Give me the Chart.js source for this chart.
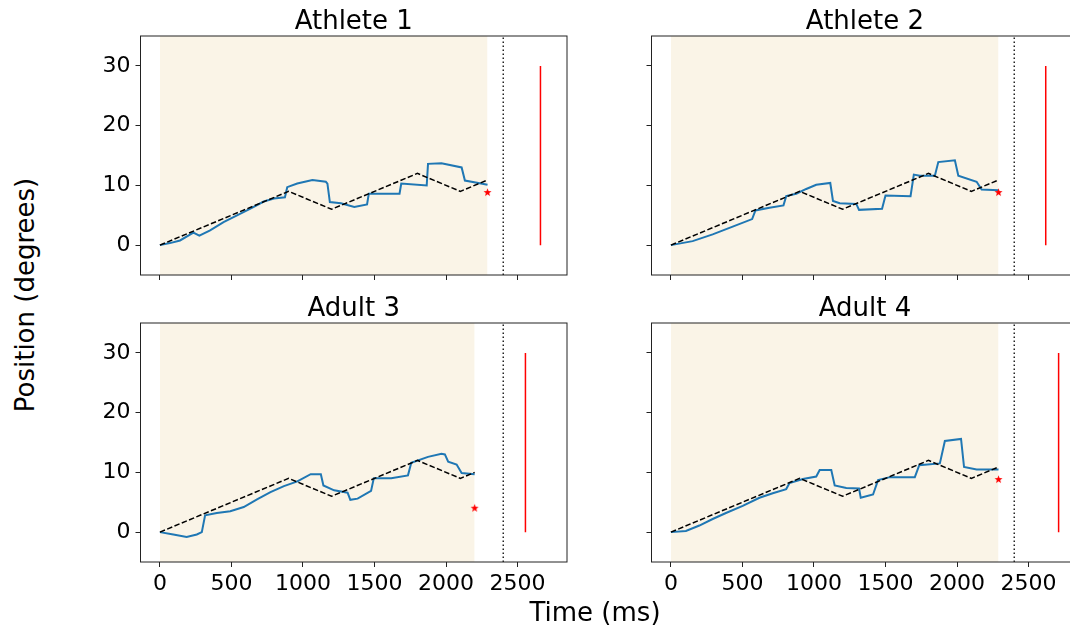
<!DOCTYPE html>
<html>
<head>
<meta charset="utf-8">
<script src="https://cdn.jsdelivr.net/npm/chart.js@4.4.1/dist/chart.umd.min.js"></script>
<style>
    html, body { margin: 0; padding: 0; background: #fff; overflow: hidden; }
    body { width: 1070px; height: 629px; position: relative; font-family: 'DejaVu Sans', sans-serif; color: #000; }
    canvas { position: absolute; }
    .panel-title { position: absolute; text-align: center; font-size: 26px; line-height: 26px; white-space: nowrap; }
    .axis-label { position: absolute; text-align: center; font-size: 26px; line-height: 26px; white-space: nowrap; }
</style>
</head>
<body>
<canvas id="panel0" width="497" height="289"></canvas>
<canvas id="panel1" width="497" height="289"></canvas>
<canvas id="panel2" width="497" height="289"></canvas>
<canvas id="panel3" width="497" height="289"></canvas>
<div class="panel-title" id="title0"></div>
<div class="panel-title" id="title1"></div>
<div class="panel-title" id="title2"></div>
<div class="panel-title" id="title3"></div>
<div class="axis-label" id="yLabel" style="left:-125px; top:282px; width:300px; transform:rotate(-90deg);">Position (degrees)</div>
<div class="axis-label" id="xLabel" style="left:445px; top:599px; width:300px;">Time (ms)</div>
<script>
// subjects and shared axes
const titles = ['Athlete 1', 'Athlete 2', 'Adult 3', 'Adult 4'];
const xTicks = [0, 500, 1000, 1500, 2000, 2500];
const yTicks = [0, 10, 20, 30];
const xRange = [-135.5, 2845.5];
const yRange = [-5, 35];

// trial events (ms) and end positions (deg)
const cueTime = 2400;
const trialEnd = [2290, 2290, 2200, 2290];
const responseTime = [2660, 2620, 2555, 2710];
const responseSpan = [0, 30];
const finalPos = [8.8, 8.8, 4.0, 8.8];

// target path
const targetTime = [0, 900, 1200, 1800, 2100];
const targetPos = [0, 9, 6, 12, 9];
const targetEndPos = [10.9, 10.9, 10.0, 10.9];

// recorded positions
const a1Time = [0, 70, 141, 234, 276, 351, 445, 539, 633, 726, 797, 874, 890, 960, 1066, 1160, 1171, 1188, 1265, 1359, 1448, 1460, 1675, 1687, 1865, 1874, 1968, 2109, 2132, 2226, 2290];
const a1Pos = [0, 0.34, 0.78, 2.1, 1.6, 2.46, 3.85, 4.97, 6.1, 7.3, 7.8, 8.0, 9.7, 10.3, 10.9, 10.6, 10.3, 7.2, 7.0, 6.4, 6.8, 8.6, 8.6, 10.3, 10.0, 13.6, 13.7, 13.0, 10.8, 10.4, 10.1];
const a2Time = [0, 152, 292, 432, 568, 591, 689, 787, 806, 876, 946, 1016, 1114, 1133, 1180, 1296, 1315, 1476, 1500, 1675, 1698, 1740, 1845, 1869, 1985, 2009, 2137, 2172, 2290];
const a2Pos = [0, 0.67, 1.8, 3.1, 4.36, 5.8, 6.26, 6.65, 8.2, 8.6, 9.4, 10.1, 10.4, 7.4, 7.0, 6.9, 5.9, 6.1, 8.3, 8.2, 11.8, 11.6, 11.6, 13.9, 14.2, 11.6, 10.6, 9.3, 9.2];
const a3Time = [0, 94, 187, 258, 293, 316, 398, 492, 586, 679, 773, 867, 961, 1054, 1125, 1143, 1218, 1312, 1331, 1382, 1476, 1495, 1617, 1734, 1757, 1874, 1968, 1992, 2015, 2074, 2109, 2200];
const a3Pos = [0, -0.4, -0.8, -0.4, 0, 2.8, 3.2, 3.5, 4.2, 5.5, 6.7, 7.7, 8.5, 9.7, 9.7, 7.8, 7.0, 6.6, 5.4, 5.6, 6.9, 9.0, 9.0, 9.5, 11.6, 12.6, 13.1, 13.0, 11.8, 11.3, 9.9, 9.7];
const a4Time = [0, 105, 199, 292, 385, 502, 619, 712, 806, 829, 923, 1016, 1040, 1121, 1145, 1226, 1315, 1327, 1413, 1448, 1530, 1705, 1736, 1880, 1915, 2028, 2049, 2137, 2290];
const a4Pos = [0, 0.2, 1.1, 2.2, 3.2, 4.4, 5.75, 6.5, 7.2, 8.2, 8.9, 9.3, 10.4, 10.4, 7.8, 7.4, 7.3, 5.75, 6.3, 8.7, 9.2, 9.2, 11.2, 11.5, 15.25, 15.6, 10.9, 10.5, 10.5];

const traceTime = [a1Time, a2Time, a3Time, a4Time];
const tracePos = [a1Pos, a2Pos, a3Pos, a4Pos];

// page layout (canvas corner, px)
const panelLeft = [80, 591.2, 80, 591.2];
const panelTop = [26, 26, 312.5, 312.5];
const axisOffsetLeft = 60.5;
const axisOffsetTop = 10;
const plotWidth = 426.5;

Chart.defaults.font.family = "'DejaVu Sans', sans-serif";
Chart.defaults.color = '#000';

// spines on all four sides
const framePlugin = {
    id: 'frame',
    afterDraw(chart) {
        const { ctx, chartArea: a } = chart;
        ctx.save();
        ctx.strokeStyle = '#222';
        ctx.lineWidth = 1;
        ctx.strokeRect(a.left, a.top, a.right - a.left, a.bottom - a.top);
        ctx.restore();
    }
};

function makeStar(r) {
    const size = Math.ceil(r * 2) + 2;
    const c = document.createElement('canvas');
    c.width = size;
    c.height = size;
    const g = c.getContext('2d');
    g.fillStyle = '#ff0000';
    g.beginPath();
    for (let i = 0; i < 10; i++) {
        const rad = i % 2 ? r * 0.42 : r;
        const ang = -Math.PI / 2 + i * Math.PI / 5;
        g.lineTo(size / 2 + rad * Math.cos(ang), size / 2 + rad * Math.sin(ang));
    }
    g.closePath();
    g.fill();
    return c;
}
const starImage = makeStar(4.2);

function points(xs, ys) {
    return xs.map((x, i) => ({ x: x, y: ys[i] }));
}

class PositionPanel {
    constructor(index) {
        this.index = index;
        this.canvas = document.getElementById(`panel${index}`);
        this.title = document.getElementById(`title${index}`);
        this.showXLabels = index >= 2;
        this.showYLabels = index % 2 === 0;

        //placement
        this.canvas.style.left = panelLeft[index] + 'px';
        this.canvas.style.top = panelTop[index] + 'px';
        this.title.textContent = titles[index];
        this.title.style.left = (panelLeft[index] + axisOffsetLeft) + 'px';
        this.title.style.width = plotWidth + 'px';
        this.title.style.top = (panelTop[index] + axisOffsetTop - 28.7) + 'px';
    }
    buildDatasets() {
        const i = this.index;
        const tTime = [...targetTime, trialEnd[i]];
        const tPos = [...targetPos, targetEndPos[i]];
        return [
            {
                // trace
                data: points(traceTime[i], tracePos[i]),
                borderColor: '#1f77b4',
                borderWidth: 2,
                pointRadius: 0,
                order: 2,
            },
            {
                // target
                data: points(tTime, tPos),
                borderColor: '#000',
                borderWidth: 1.5,
                borderDash: [5.5, 2.4],
                pointRadius: 0,
                order: 1,
            },
            {
                // final position
                data: [{ x: trialEnd[i], y: finalPos[i] }],
                showLine: false,
                pointStyle: starImage,
                pointRadius: 5,
                order: 0,
            },
            {
                // response
                data: points([responseTime[i], responseTime[i]], responseSpan),
                borderColor: '#ff0000',
                borderWidth: 1.5,
                pointRadius: 0,
                order: 3,
            },
            {
                // cue
                data: points([cueTime, cueTime], yRange),
                borderColor: '#222',
                borderWidth: 1.5,
                borderDash: [1.5, 2.5],
                pointRadius: 0,
                order: 4,
            },
            {
                // trial window
                data: points([0, trialEnd[i]], [yRange[1], yRange[1]]),
                borderColor: 'transparent',
                borderWidth: 0,
                backgroundColor: 'rgb(250, 244, 231)',
                fill: 'start',
                pointRadius: 0,
                order: 5,
            },
        ];
    }
    draw() {
        const showX = this.showXLabels;
        const showY = this.showYLabels;
        const config = {
            type: 'line',
            data: { datasets: this.buildDatasets() },
            options: {
                responsive: false,
                animation: false,
                devicePixelRatio: 1,
                layout: { padding: { left: 0, top: axisOffsetTop, right: 10, bottom: 0 } },
                plugins: {
                    legend: { display: false },
                    tooltip: { enabled: false },
                },
                scales: {
                    x: {
                        type: 'linear',
                        min: xRange[0],
                        max: xRange[1],
                        afterBuildTicks: (s) => { s.ticks = xTicks.map(v => ({ value: v })); },
                        afterFit: (s) => {
                            s.height = 40;
                            s.paddingLeft = 0;
                            s.paddingRight = 0;
                        },
                        border: { display: false },
                        grid: { drawOnChartArea: false, drawTicks: true, tickLength: 5, tickColor: '#222', tickWidth: 1 },
                        ticks: {
                            font: { size: 22 },
                            padding: 4,
                            maxRotation: 0,
                            autoSkip: false,
                            callback: (v) => showX ? String(v) : '',
                        },
                    },
                    y: {
                        type: 'linear',
                        min: yRange[0],
                        max: yRange[1],
                        afterBuildTicks: (s) => { s.ticks = yTicks.map(v => ({ value: v })); },
                        afterFit: (s) => {
                            s.width = axisOffsetLeft;
                            s.paddingTop = 0;
                            s.paddingBottom = 0;
                        },
                        border: { display: false },
                        grid: { drawOnChartArea: false, drawTicks: true, tickLength: 5, tickColor: '#222', tickWidth: 1 },
                        ticks: {
                            font: { size: 22 },
                            padding: 5,
                            autoSkip: false,
                            callback: (v) => showY ? String(v) : '',
                        },
                    },
                },
            },
            plugins: [framePlugin],
        };
        return new Chart(this.canvas, config);
    }
}

const panels = titles.map((t, i) => new PositionPanel(i));
panels.forEach(p => p.draw());
</script>
</body>
</html>
